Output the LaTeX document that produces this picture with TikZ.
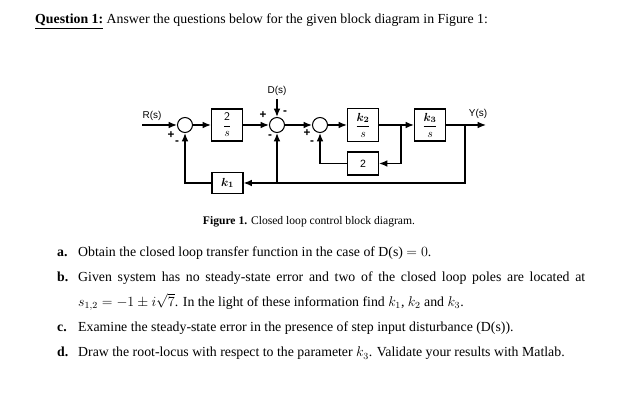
\documentclass[tikz,border=0pt]{standalone}
\usepackage{bm}
\usepackage{fontspec}
\setmainfont{Liberation Serif}
\newfontfamily\labelfont{Liberation Sans}
\usetikzlibrary{arrows.meta}
\tikzset{
	sig/.style={line width=1.1pt, -{Latex[length=0.25cm,width=0.2cm]}},
	blk/.style={draw, line width=0.9pt, minimum width=0.93cm, inner sep=0pt, font=\fontsize{10}{11}\selectfont},
	sum/.style={draw, circle, line width=0.9pt, minimum size=0.45cm, inner sep=0pt},
	sgn/.style={inner sep=0pt, font=\labelfont\bfseries\fontsize{10}{10}\selectfont},
	lbl/.style={inner sep=0pt, font=\labelfont\fontsize{8.5}{9}\selectfont},
	txt/.style={anchor=base west, inner sep=0pt, font=\fontsize{11.8}{13}\selectfont}
}

\begin{document}
\begin{tikzpicture}[x=0.03cm, y=-0.03cm]
				\useasboundingbox (0,0) rectangle (636,403);
				
				\node[txt] (title) at (35,24) {\textbf{\underline{Question 1:}} Answer the questions below for the given block diagram in Figure 1:};
				
				\node[sum] (s1) at (185,125) {};
				\node[sum] (s2) at (277,125) {};
				\node[sum] (s3) at (320,125) {};
				\node[blk, minimum height=0.96cm] (g1) at (227,125) {$\displaystyle\frac{\mathsf{2}}{s}$};
				\node[blk, minimum height=0.99cm] (g2) at (363,125) {$\displaystyle\frac{\bm{k_2}}{s}$};
				\node[blk, minimum height=0.96cm] (g3) at (430,125) {$\displaystyle\frac{\bm{k_3}}{s}$};
				\node[blk, minimum height=0.69cm, font=\labelfont\fontsize{9}{10}\selectfont] (h2) at (363,163.5) {2};
				\node[blk, minimum height=0.63cm] (h1) at (227.5,183) {$\bm{k_1}$};
				
				\node[lbl] (rlab) at (152,116) {R(s)};
				\node[lbl] (dlab) at (277,91) {D(s)};
				\node[lbl] (ylab) at (478,114) {Y(s)};
				
				\coordinate (rin) at (142,125);
				\coordinate (din) at (277,99);
				\coordinate (yout) at (486,125);
				\coordinate (b1) at (401,125);
				\coordinate (b2) at (465,125);
				\coordinate (b3) at (277,183);
				
				\draw[sig] (rin) -- (s1);
				\draw[sig] (s1) -- (g1);
				\draw[sig] (g1) -- (s2);
				\draw[sig] (din) -- (s2);
				\draw[sig] (s2) -- (s3);
				\draw[sig] (s3) -- (g2);
				\draw[sig] (g2) -- (g3);
				\draw[sig] (g3) -- (yout);
				\draw[sig] (b1) |- (h2);
				\draw[sig] (h2) -| (s3);
				\draw[sig] (b2) |- (h1);
				\draw[sig] (b3) -- (s2);
				\draw[sig] (h1) -| (s1);
				
				\node[sgn] at (171,135) {+};
				\node[sgn] at (177,143) {-};
				\node[sgn] at (263,115) {+};
				\node[sgn] at (285,113) {-};
				\node[sgn] at (270,137) {-};
				\node[sgn] at (307,133) {+};
				\node[sgn] at (312,143) {-};
				
				\node[anchor=base, inner sep=0pt, font=\fontsize{9.9}{11}\selectfont] (cap) at (309,225) {\textbf{Figure 1.} Closed loop control block diagram.};
				
				\node[txt] (la) at (57,256.5) {\textbf{a.}};
				\node[txt] (qa) at (78,256.5) {Obtain the closed loop transfer function in the case of D(s)~$=0$.};
				\node[txt] (lb) at (57,281.5) {\textbf{b.}};
				\node[txt] (qb) at (78,281.5) {\makebox[15.21cm][s]{Given system has no steady-state error and two of the closed loop poles are located at}};
				\node[txt] (qb2) at (78,306.5) {$s_{1,2}=-1\pm i\sqrt{7}$. In the light of these information find $k_1$, $k_2$ and $k_3$.};
				\node[txt] (lc) at (57,332) {\textbf{c.}};
				\node[txt] (qc) at (78,332) {Examine the steady-state error in the presence of step input disturbance (D(s)).};
				\node[txt] (ld) at (57,357) {\textbf{d.}};
				\node[txt] (qd) at (78,357) {Draw the root-locus with respect to the parameter $k_3$. Validate your results with Matlab.};
			\end{tikzpicture}
\end{document}
